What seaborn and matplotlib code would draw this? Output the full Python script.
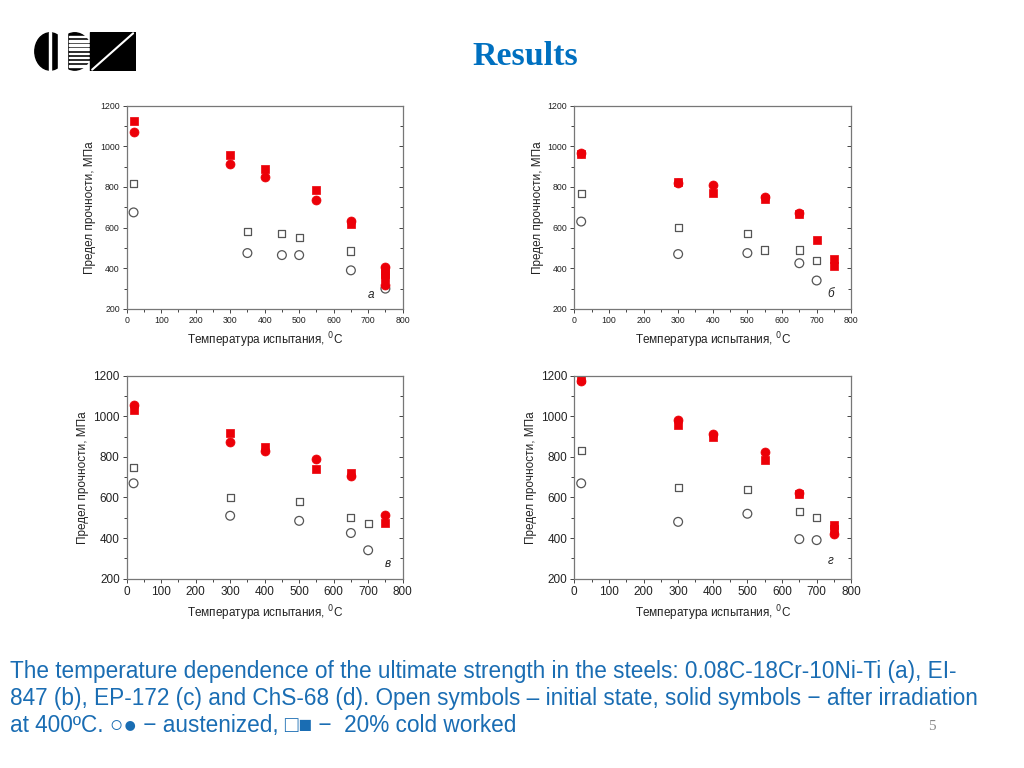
import matplotlib.pyplot as plt
import matplotlib.patches as mpatches
from matplotlib.ticker import MultipleLocator
import pandas as pd
import seaborn as sns

sns.set_style('white')
plt.rcParams['font.family'] = ['Liberation Sans', 'DejaVu Sans']

# Panel а: 0.08C-18Cr-10Ni-Ti
a_cold_t = [20, 350, 450, 500, 650]
a_cold_v = [815, 580, 570, 550, 485]
a_aust_t = [20, 350, 450, 500, 650, 750]
a_aust_v = [675, 475, 465, 465, 390, 300]
a_cold_irr_t = [20, 300, 400, 550, 650, 750, 750, 750]
a_cold_irr_v = [1125, 955, 890, 785, 618, 390, 370, 350]
a_aust_irr_t = [20, 300, 400, 550, 650, 750, 750]
a_aust_irr_v = [1070, 915, 850, 735, 635, 405, 320]

# Panel б: ЭИ-847
b_cold_t = [20, 300, 500, 550, 650, 700]
b_cold_v = [770, 600, 570, 490, 490, 440]
b_aust_t = [20, 300, 500, 650, 700]
b_aust_v = [630, 470, 475, 425, 340]
b_cold_irr_t = [20, 300, 400, 550, 650, 700, 750, 750]
b_cold_irr_v = [960, 825, 770, 740, 668, 540, 445, 410]
b_aust_irr_t = [20, 300, 400, 550, 650]
b_aust_irr_v = [965, 820, 810, 750, 670]

# Panel в: ЭП-172
c_cold_t = [20, 300, 500, 650, 700]
c_cold_v = [750, 600, 580, 500, 470]
c_aust_t = [20, 300, 500, 650, 700]
c_aust_v = [670, 510, 485, 425, 340]
c_cold_irr_t = [20, 300, 400, 550, 650, 750]
c_cold_irr_v = [1030, 920, 850, 740, 720, 475]
c_aust_irr_t = [20, 300, 400, 550, 650, 750]
c_aust_irr_v = [1055, 875, 830, 790, 705, 515]

# Panel г: ЧС-68
d_cold_t = [20, 300, 500, 650, 700]
d_cold_v = [830, 650, 640, 530, 500]
d_aust_t = [20, 300, 500, 650, 700]
d_aust_v = [670, 480, 520, 395, 390]
d_cold_irr_t = [20, 300, 400, 550, 650, 750, 750]
d_cold_irr_v = [1185, 955, 900, 785, 618, 465, 445]
d_aust_irr_t = [20, 300, 400, 550, 650, 750]
d_aust_irr_v = [1175, 980, 915, 825, 620, 420]

panel_letters = ['а', 'б', 'в', 'г']
letter_pos = [(700, 255), (730, 258), (748, 258), (733, 272)]

caption_lines = [
    "The temperature dependence of the ultimate strength in the steels: "
    "0.08C-18Cr-10Ni-Ti (a), EI-",
    "847 (b), EP-172 (c) and ChS-68 (d). Open symbols \u2013 initial state, "
    "solid symbols \u2212 after irradiation",
    "at 400\u00baC. \u25cb\u25cf \u2212 austenized, \u25a1\u25a0 \u2212  20% cold worked",
]

red = '#ec0008'
grey = '#555555'
blue = '#1a6db3'


def draw_panel(ax, cold_t, cold_v, aust_t, aust_v, cirr_t, cirr_v, airr_t, airr_v,
               letter, lpos, small):
    sns.scatterplot(x=cold_t, y=cold_v, ax=ax, marker='s', s=26,
                    facecolor='none', edgecolor=grey, linewidth=0.9)
    sns.scatterplot(x=aust_t, y=aust_v, ax=ax, marker='o', s=40,
                    facecolor='none', edgecolor=grey, linewidth=0.9)
    sns.scatterplot(x=cirr_t, y=cirr_v, ax=ax, marker='s', s=32,
                    color=red, edgecolor=red, linewidth=0.5)
    sns.scatterplot(x=airr_t, y=airr_v, ax=ax, marker='o', s=42,
                    color=red, edgecolor=red, linewidth=0.5)
    ax.set_xlim(0, 800)
    ax.set_ylim(200, 1200)
    ax.xaxis.set_major_locator(MultipleLocator(100))
    ax.xaxis.set_minor_locator(MultipleLocator(50))
    ax.yaxis.set_major_locator(MultipleLocator(200))
    ax.yaxis.set_minor_locator(MultipleLocator(100))
    fs = 6.3 if small else 8.5
    ax.tick_params(which='both', direction='out', left=True, bottom=True,
                   right=False, top=False, color='#444444', width=0.7,
                   labelsize=fs, labelcolor='#222222', pad=2)
    ax.tick_params(which='major', length=3)
    ax.tick_params(which='minor', length=2)
    for sp in ax.spines.values():
        sp.set_color('#777777')
        sp.set_linewidth(0.9)
    ax.set_xlabel('Температура испытания, $^{0}$C', fontsize=8.5, color='#222222')
    ax.set_ylabel('Предел прочности, МПа', fontsize=8.5, color='#222222', labelpad=3)
    ax.text(lpos[0], lpos[1], letter, fontsize=8.5, style='italic', color='#222222')
    # inward ticks on the right spine
    ax2 = ax.secondary_yaxis('right')
    ax2.yaxis.set_major_locator(MultipleLocator(200))
    ax2.yaxis.set_minor_locator(MultipleLocator(100))
    ax2.tick_params(which='both', direction='in', labelright=False,
                    color='#444444', width=0.7)
    ax2.tick_params(which='major', length=3)
    ax2.tick_params(which='minor', length=2)
    ax2.spines['right'].set_visible(False)


fig = plt.figure(figsize=(10.24, 7.68), dpi=100)

axes = [
    fig.add_axes([0.1237, 0.5977, 0.2695, 0.2647]),
    fig.add_axes([0.5608, 0.5977, 0.2705, 0.2647]),
    fig.add_axes([0.1237, 0.2465, 0.2695, 0.2643]),
    fig.add_axes([0.5608, 0.2465, 0.2705, 0.2643]),
]

draw_panel(axes[0], a_cold_t, a_cold_v, a_aust_t, a_aust_v,
           a_cold_irr_t, a_cold_irr_v, a_aust_irr_t, a_aust_irr_v,
           panel_letters[0], letter_pos[0], True)
draw_panel(axes[1], b_cold_t, b_cold_v, b_aust_t, b_aust_v,
           b_cold_irr_t, b_cold_irr_v, b_aust_irr_t, b_aust_irr_v,
           panel_letters[1], letter_pos[1], True)
draw_panel(axes[2], c_cold_t, c_cold_v, c_aust_t, c_aust_v,
           c_cold_irr_t, c_cold_irr_v, c_aust_irr_t, c_aust_irr_v,
           panel_letters[2], letter_pos[2], False)
draw_panel(axes[3], d_cold_t, d_cold_v, d_aust_t, d_aust_v,
           d_cold_irr_t, d_cold_irr_v, d_aust_irr_t, d_aust_irr_v,
           panel_letters[3], letter_pos[3], False)

# title
fig.text(0.5127, 0.926, 'Results', fontsize=24.5, fontweight='bold', color='#0070c0',
         family='Liberation Serif', ha='center', va='center')

# rough logo
logo = fig.add_axes([0.033, 0.908, 0.1, 0.05])
logo.set_xlim(0, 100)
logo.set_ylim(0, 37)
logo.axis('off')
logo.add_patch(mpatches.Ellipse((16, 18.5), 30, 36, color='black'))
logo.add_patch(mpatches.Rectangle((15, 0), 2.2, 37, color='white'))
logo.add_patch(mpatches.Ellipse((40, 18.5), 32, 36, color='black'))
logo.add_patch(mpatches.Rectangle((24, 0), 8, 37, color='white'))
for yy in range(4, 34, 4):
    logo.add_patch(mpatches.Rectangle((34, yy), 20, 1.4, color='white'))
logo.add_patch(mpatches.Rectangle((55, 0), 44, 37, color='black'))
logo.plot([57, 97], [1, 36], color='white', lw=1.5)
logo.add_patch(mpatches.Rectangle((57, 0), 42, 37, fill=False, ec='black'))

# caption, one text per line
for i, line in enumerate(caption_lines):
    fig.text(0.010, (768 - 678 - 27 * i) / 768, line, fontsize=16.3, color=blue,
             ha='left', va='baseline', family=['Liberation Sans', 'DejaVu Sans'])
fig.text(0.910, 0.054, '5', fontsize=11, color='#888888', family='Liberation Serif',
         ha='center', va='center')

fig.savefig('out.png', dpi=100)
